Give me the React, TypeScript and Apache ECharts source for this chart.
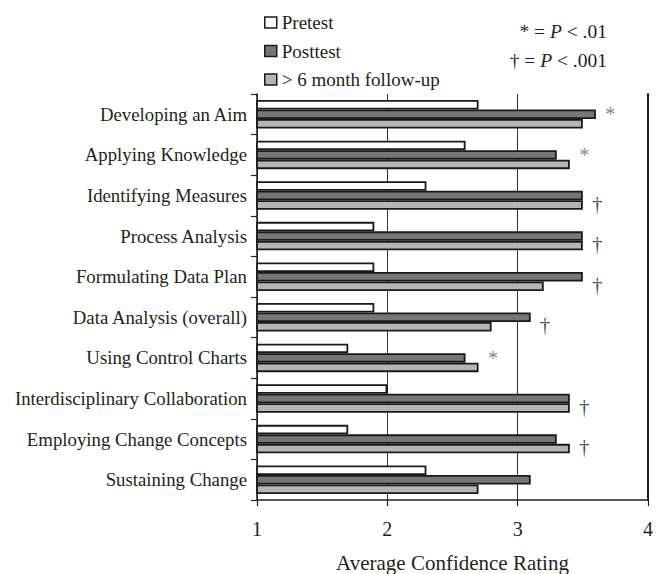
import React, { useEffect, useRef } from "react";
import * as echarts from "echarts";

const categories = [
  "Developing an Aim",
  "Applying Knowledge",
  "Identifying Measures",
  "Process Analysis",
  "Formulating Data Plan",
  "Data Analysis (overall)",
  "Using Control Charts",
  "Interdisciplinary Collaboration",
  "Employing Change Concepts",
  "Sustaining Change",
];
const pretest = [2.7, 2.6, 2.3, 1.9, 1.9, 1.9, 1.7, 2.0, 1.7, 2.3];
const posttest = [3.6, 3.3, 3.5, 3.5, 3.5, 3.1, 2.6, 3.4, 3.3, 3.1];
const followup = [3.5, 3.4, 3.5, 3.5, 3.2, 2.8, 2.7, 3.4, 3.4, 2.7];
const significance = ["*", "*", "†", "†", "†", "†", "*", "†", "†", ""];
const xTicks = [1, 2, 3, 4];
const seriesNames = ["Pretest", "Posttest", "> 6 month follow-up"];

const FONT = "'Liberation Serif', 'Times New Roman', serif";
const INK = "#231f20";

export default function App() {
  const ref = useRef<HTMLDivElement>(null);
  useEffect(() => {
    if (!ref.current) return;
    const chart = echarts.init(ref.current, null, { renderer: "svg" });
    const barStyle = (color: string) => ({
      color,
      borderColor: "#1a1a1a",
      borderWidth: 1.8,
    });
    const sigData = significance
      .map((s, i) =>
        s
          ? {
              value: [Math.max(posttest[i], followup[i]) + 0.11, i],
              itemStyle: { color: s === "*" ? "#666" : INK },
              label: {
                show: true,
                position: "inside",
                formatter: s,
                fontFamily: FONT,
                fontSize: s === "*" ? 20 : 21,
                color: s === "*" ? "#666" : INK,
                textBorderWidth: 0,
                offset: s === "*" ? [0, 0] : [0, 8],
              },
            }
          : null
      )
      .filter(Boolean);
    chart.setOption({
      animation: false,
      grid: {
        left: 257,
        right: 15,
        top: 94,
        bottom: 74,
        containLabel: false,
        outerBoundsMode: "none",
      },
      legend: {
        orient: "vertical",
        left: 259,
        top: 8,
        itemGap: 9.5,
        itemWidth: 12,
        itemHeight: 11,
        icon: "rect",
        data: seriesNames,
        textStyle: { fontFamily: FONT, fontSize: 19, color: INK, lineHeight: 19 },
        itemStyle: { borderColor: "#1a1a1a", borderWidth: 1.5 },
        selectedMode: false,
      },
      graphic: [
        {
          type: "text",
          x: 607,
          y: 31,
          style: {
            text: "{a|* = }{i|P}{a| < .01}",
            align: "right",
            verticalAlign: "middle",
            rich: {
              a: { fontFamily: FONT, fontSize: 19.5, fill: INK },
              i: { fontFamily: FONT, fontSize: 19.5, fontStyle: "italic", fill: INK },
            },
          },
        },
        {
          type: "text",
          x: 607,
          y: 60,
          style: {
            text: "{a|† = }{i|P}{a| < .001}",
            align: "right",
            verticalAlign: "middle",
            rich: {
              a: { fontFamily: FONT, fontSize: 19.5, fill: INK },
              i: { fontFamily: FONT, fontSize: 19.5, fontStyle: "italic", fill: INK },
            },
          },
        },
      ],
      xAxis: {
        type: "value",
        min: xTicks[0],
        max: xTicks[xTicks.length - 1],
        interval: 1,
        name: "Average Confidence Rating",
        nameLocation: "middle",
        nameGap: 52,
        nameTextStyle: { fontFamily: FONT, fontSize: 21, color: INK },
        axisLine: { show: true, lineStyle: { color: INK, width: 1.5 } },
        axisTick: { show: true, length: 6, lineStyle: { color: INK, width: 1.2 } },
        axisLabel: { fontFamily: FONT, fontSize: 20, color: INK, margin: 19 },
        splitLine: { show: true, lineStyle: { color: "#333", width: 1 } },
      },
      yAxis: [
        {
          type: "category",
          data: categories,
          inverse: true,
          axisLine: { show: true, lineStyle: { color: INK, width: 1.5 } },
          axisTick: { show: true, length: 6, lineStyle: { color: INK, width: 1.2 } },
          axisLabel: { fontFamily: FONT, fontSize: 18.8, color: INK, margin: 10 },
        },
        {
          type: "category",
          data: categories,
          inverse: true,
          position: "right",
          axisLine: { show: true, lineStyle: { color: INK, width: 2 } },
          axisTick: { show: false },
          axisLabel: { show: false },
        },
      ],
      series: [
        { name: seriesNames[0], type: "bar", data: pretest, barWidth: 9.5, barGap: "0%", itemStyle: barStyle("#ffffff") },
        { name: seriesNames[1], type: "bar", data: posttest, barWidth: 9.5, barGap: "0%", itemStyle: barStyle("#767676") },
        { name: seriesNames[2], type: "bar", data: followup, barWidth: 9.5, barGap: "0%", itemStyle: barStyle("#b5b5b5") },
        {
          type: "scatter",
          data: sigData,
          symbolSize: 0,
          silent: true,
          z: 5,
        },
      ],
    });
    return () => chart.dispose();
  }, []);
  return (
    <div
      ref={ref}
      style={{ position: "absolute", left: 0, top: 0, width: 663, height: 574, background: "#fff" }}
    />
  );
}
